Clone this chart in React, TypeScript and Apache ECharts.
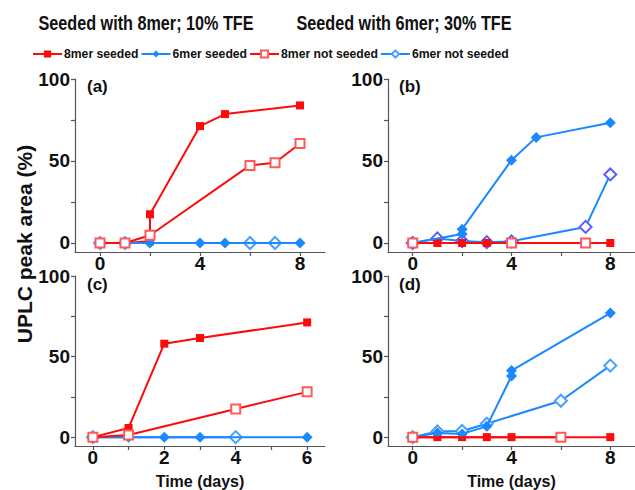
import React, { useEffect, useRef } from "react";
import * as echarts from "echarts";

// ---- data (days, % peak area) ----
const names = ["8mer seeded", "6mer seeded", "8mer not seeded", "6mer not seeded"];

// panel (a)
const aX8s = [0, 1, 2, 2, 4, 5, 8];
const aY8s = [0, 0, 1, 17.5, 71.3, 78.6, 83.9];
const aX6s = [0, 2, 4, 5, 8];
const aY6s = [0, 0, 0, 0, 0];
const aX8n = [0, 1, 2, 6, 7, 8];
const aY8n = [0, 0, 4.7, 47.3, 48.9, 60.7];
const aX6n = [0, 1, 6, 7];
const aY6n = [0, 0, 0, 0];

// panel (b)
const bX8s = [0, 1, 2, 3, 8];
const bY8s = [0, 0, 0, 0, 0];
const bX6s = [0, 2, 2, 4, 5, 8];
const bY6s = [0, 5.5, 8.4, 50.5, 64.4, 73.3];
const bX8n = [0, 4, 7];
const bY8n = [0, 0, 0];
const bX6n = [0, 1, 2, 3, 4, 7, 8];
const bY6n = [0, 2.8, 1.2, 0.5, 1, 9.8, 41.8];

// panel (c)
const cX8s = [0, 1, 2, 3, 6];
const cY8s = [0, 5.7, 58, 61.5, 71.2];
const cX6s = [0, 1, 2, 3, 6];
const cY6s = [0, 0, 0, 0, 0];
const cX8n = [0, 1, 4, 6];
const cY8n = [0, 1.3, 17.5, 28.1];
const cX6n = [0, 4];
const cY6n = [0, 0];

// panel (d)
const dX8s = [0, 1, 2, 3, 4, 8];
const dY8s = [0, 0, 0, 0, 0, 0];
const dX6s = [0, 1, 2, 3, 4, 4, 8];
const dY6s = [0, 2.5, 2, 6.7, 37.9, 41.3, 77];
const dX8n = [0, 6];
const dY8n = [0, 0];
const dX6n = [0, 1, 2, 3, 6, 8];
const dY6n = [0, 3.5, 3.8, 8.3, 22.6, 44.4];

const yLabels = [0, 50, 100];
const yTicks = [0, 25, 50, 75, 100];
const xLabels8 = [0, 4, 8];
const xTicks8 = [0, 2, 4, 6, 8];
const xLabels6 = [0, 2, 4, 6];
const xTicks6 = [0, 1, 2, 3, 4, 5, 6];

const panelTitles = ["Seeded with 8mer; 10% TFE", "Seeded with 6mer; 30% TFE"];
const panelTags = ["(a)", "(b)", "(c)", "(d)"];

const RED = "#ff0a0a";
const RED_LIGHT = "#ff5a5a";
const BLUE = "#1a88ff";
const BLUE_LIGHT = "#4aa0ff";
const FONT = "Liberation Sans, Arial, sans-serif";

const zip = (xs: number[], ys: number[]) => xs.map((x, i) => [x, ys[i]]);

export default function App() {
  const ref = useRef<HTMLDivElement>(null);
  useEffect(() => {
    if (!ref.current) return;
    const chart = echarts.init(ref.current, undefined, { renderer: "svg" });

    const grids = [
      { left: 75, right: 310, top: 79, bottom: 238 },
      { left: 388, right: -3, top: 79, bottom: 238 },
      { left: 75, right: 310, top: 276, bottom: 42 },
      { left: 388, right: -3, top: 276, bottom: 42 },
    ];

    const axisLineStyle = { color: "#555", width: 1.2 };
    const labelStyle = { color: "#111", fontFamily: FONT, fontWeight: "bold" as const, fontSize: 19 };

    const xAxes = grids.map((_, i) => {
      const six = i === 2;
      return {
        type: "value",
        gridIndex: i,
        min: six ? -0.5 : -1,
        max: six ? 6.5 : 9,
        splitLine: { show: false },
        axisLine: { show: true, onZero: false, lineStyle: axisLineStyle },
        axisTick: { show: true, length: 4, customValues: six ? xTicks6 : xTicks8, lineStyle: axisLineStyle },
        axisLabel: { ...labelStyle, margin: 2, customValues: six ? xLabels6 : xLabels8 },
        name: i >= 2 ? "Time (days)" : "",
        nameLocation: "middle",
        nameGap: 27,
        nameTextStyle: { color: "#111", fontFamily: FONT, fontWeight: "bold", fontSize: 16 },
      };
    });

    const yAxes = grids.map((_, i) => ({
      type: "value",
      gridIndex: i,
      min: -5.5,
      max: 100,
      splitLine: { show: false },
      axisLine: { show: true, onZero: false, lineStyle: axisLineStyle },
      axisTick: { show: true, length: 4, customValues: yTicks, lineStyle: axisLineStyle },
      axisLabel: { ...labelStyle, margin: 5, customValues: yLabels },
    }));

    const panels = [
      [zip(aX8s, aY8s), zip(aX6s, aY6s), zip(aX8n, aY8n), zip(aX6n, aY6n)],
      [zip(bX8s, bY8s), zip(bX6s, bY6s), zip(bX8n, bY8n), zip(bX6n, bY6n)],
      [zip(cX8s, cY8s), zip(cX6s, cY6s), zip(cX8n, cY8n), zip(cX6n, cY6n)],
      [zip(dX8s, dY8s), zip(dX6s, dY6s), zip(dX8n, dY8n), zip(dX6n, dY6n)],
    ];

    const styleFor = (k: number, panel: number) => {
      if (k === 0)
        return { symbol: "rect", symbolSize: 8, lineStyle: { color: RED, width: 2 }, itemStyle: { color: RED }, z: 3 };
      if (k === 1)
        return { symbol: "diamond", symbolSize: 11, lineStyle: { color: BLUE, width: 2 }, itemStyle: { color: BLUE }, z: 4 };
      if (k === 2)
        return {
          symbol: "emptyRect",
          symbolSize: 9,
          lineStyle: { color: RED, width: 2 },
          itemStyle: { color: RED_LIGHT, borderWidth: 1.3 },
          z: 5,
        };
      return {
        symbol: "emptyDiamond",
        symbolSize: 12,
        lineStyle: { color: BLUE, width: 2 },
        itemStyle: { color: panel === 1 ? "#5b5bff" : BLUE_LIGHT, borderWidth: 1.3 },
        z: 2,
      };
    };

    const series: any[] = [];
    panels.forEach((p, pi) => {
      p.forEach((data, k) => {
        series.push({
          type: "line",
          name: names[k],
          xAxisIndex: pi,
          yAxisIndex: pi,
          data,
          showSymbol: true,
          ...styleFor(k, pi),
        });
      });
    });

    chart.setOption({
      animation: false,
      textStyle: { fontFamily: FONT },
      legend: {
        data: names,
        left: 27,
        top: 43,
        itemWidth: 29,
        itemHeight: 9,
        itemGap: 2,
        textStyle: { fontFamily: FONT, fontWeight: "bold", fontSize: 12.2, color: "#111", padding: [0, 0, 0, -3] },
      },
      grid: grids,
      xAxis: xAxes,
      yAxis: yAxes,
      series,
      graphic: [
        ...panelTitles.map((t, i) => ({
          type: "text",
          x: i === 0 ? 146 : 404,
          y: 23,
          scaleY: 1.2,
          style: {
            text: t,
            fontFamily: FONT,
            fontWeight: "bold",
            fontSize: 16.2,
            fill: "#111",
            textAlign: "center",
            textVerticalAlign: "middle",
          },
        })),
        {
          type: "text",
          x: 24,
          y: 244,
          rotation: Math.PI / 2,
          style: {
            text: "UPLC peak area (%)",
            fontFamily: FONT,
            fontWeight: "bold",
            fontSize: 21,
            fill: "#111",
            textAlign: "center",
            textVerticalAlign: "middle",
          },
        },
        ...panelTags.map((t, i) => ({
          type: "text",
          x: i % 2 === 0 ? 87 : 399,
          y: i < 2 ? 86 : 284,
          style: {
            text: t,
            fontFamily: FONT,
            fontWeight: "bold",
            fontSize: 17,
            fill: "#111",
            textVerticalAlign: "middle",
          },
        })),
      ],
    });
    return () => chart.dispose();
  }, []);
  return <div ref={ref} style={{ width: 635, height: 490, position: "absolute", left: 0, top: 0 }} />;
}
